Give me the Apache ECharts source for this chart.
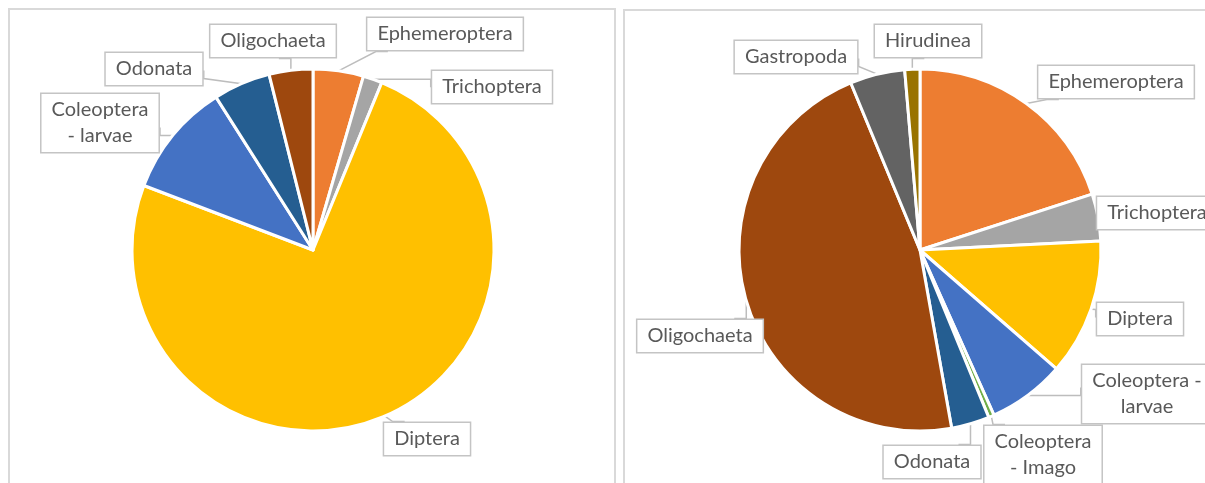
<!DOCTYPE html>
<html>
<head>
<meta charset="utf-8">
<script src="https://cdn.jsdelivr.net/npm/echarts@6/dist/echarts.min.js"></script>
<style>
  html, body { margin: 0; padding: 0; background: #fff; }
  #chart { width: 1205px; height: 483px; }
</style>
</head>
<body>
<div id="chart"></div>
<script>
// left pie (percent of individuals)
const leftNames = ['Ephemeroptera', 'Trichoptera', 'Diptera', 'Coleoptera\n- larvae', 'Odonata', 'Oligochaeta']
const leftValues = [4.5, 1.7, 74.6, 10.2, 5.1, 3.9]
const leftColors = ['#ED7D31', '#A5A5A5', '#FFC000', '#4472C4', '#255E91', '#9E480E']

// right pie
const rightNames = ['Ephemeroptera', 'Trichoptera', 'Diptera', 'Coleoptera -\nlarvae', 'Coleoptera\n- Imago', 'Odonata', 'Oligochaeta', 'Gastropoda', 'Hirudinea']
const rightValues = [20.0, 4.2, 12.2, 6.9, 0.5, 3.4, 46.55, 4.9, 1.35]
const rightColors = ['#ED7D31', '#A5A5A5', '#FFC000', '#4472C4', '#70AD47', '#255E91', '#9E480E', '#636363', '#997300']

// where the callout boxes sit (box centres)
const leftCallouts = [[445, 34], [492, 87], [427, 439], [100, 123], [154, 69], [273, 41]]
const rightCallouts = [[1116, 82], [1157, 213], [1140, 319], [1147, 394], [1043, 455], [932, 462], [700, 336], [796, 57], [928, 41]]

const chart = echarts.init(document.getElementById('chart'))

function toData(names, values, colors) {
  return names.map((n, i) => ({ name: n, value: values[i], itemStyle: { color: colors[i] } }))
}

// excel-like leader line: from slice edge to nearest side of the box
function callout(pos) {
  return function(p) {
    const c = pos[p.dataIndex]
    const w = p.labelRect.width
    const h = p.labelRect.height
    const x0 = c[0] - w / 2
    const x1 = c[0] + w / 2
    const y0 = c[1] - h / 2
    const y1 = c[1] + h / 2
    const s = p.labelLinePoints[0]
    const clamp = (v, a, b) => Math.max(a, Math.min(b, v))
    let pts
    if (s[1] > y1) {
      const ex = clamp(s[0], x0 + 10, x1 - 10)
      pts = [s, [ex, y1], [ex + (ex < c[0] ? 12 : -12), y1]]
    } else if (s[1] < y0) {
      const ex = clamp(s[0], x0 + 10, x1 - 10)
      pts = [s, [ex, y0], [ex + (ex < c[0] ? 12 : -12), y0]]
    } else if (s[0] < x0) {
      const ey = clamp(s[1], y0 + 8, y1 - 8)
      pts = [s, [x0, ey], [x0, ey + (ey < c[1] ? 8 : -8)]]
    } else {
      const ey = clamp(s[1], y0 + 8, y1 - 8)
      pts = [s, [x1, ey], [x1, ey + (ey < c[1] ? 8 : -8)]]
    }
    return {
      x: c[0],
      y: c[1],
      align: 'center',
      verticalAlign: 'middle',
      labelLinePoints: pts
    }
  }
}

const labelStyle = {
  show: true,
  position: 'outside',
  formatter: '{b}',
  color: '#595959',
  fontFamily: 'Lato',
  fontSize: 20,
  lineHeight: 26,
  align: 'center',
  backgroundColor: '#fff',
  borderColor: '#c4c4c4',
  borderWidth: 1.5,
  padding: [3, 10, 3, 10]
}

function pieSeries(center, data, pos) {
  return {
    type: 'pie',
    center,
    radius: 181,
    startAngle: 90,
    clockwise: true,
    avoidLabelOverlap: false,
    silent: true,
    data,
    itemStyle: {
      borderColor: '#fff',
      borderWidth: 3
    },
    label: labelStyle,
    labelLine: {
      show: true,
      length: 10,
      length2: 10,
      lineStyle: { color: '#bdbdbd', width: 1.5 }
    },
    labelLayout: callout(pos)
  }
}

chart.setOption({
  animation: false,
  graphic: [
    {
      type: 'rect',
      shape: { x: 9, y: 9, width: 606, height: 520 },
      style: { fill: null, stroke: '#d9d9d9', lineWidth: 2 },
      z: -1
    },
    {
      type: 'rect',
      shape: { x: 624, y: 10, width: 620, height: 520 },
      style: { fill: null, stroke: '#d9d9d9', lineWidth: 2 },
      z: -1
    }
  ],
  series: [
    pieSeries([313, 250], toData(leftNames, leftValues, leftColors), leftCallouts),
    pieSeries([920, 250], toData(rightNames, rightValues, rightColors), rightCallouts)
  ]
})
</script>
</body>
</html>
